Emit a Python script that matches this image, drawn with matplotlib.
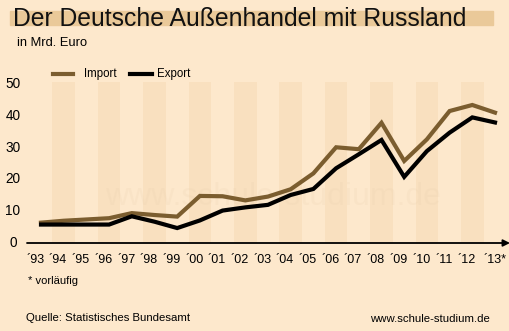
import matplotlib
matplotlib.use("Agg")
import matplotlib.pyplot as plt
from matplotlib.patches import Rectangle

plt.rcParams['font.family'] = ['Liberation Sans', 'DejaVu Sans']

years = list(range(1993, 2014))
tick_labels = ["´93", "´94", "´95", "´96", "´97", "´98", "´99", "´00", "´01", "´02",
               "´03", "´04", "´05", "´06", "´07", "´08", "´09", "´10", "´11", "´12", "´13*"]
imports = [6.4, 7.0, 7.4, 7.8, 9.4, 8.8, 8.3, 14.8, 14.7, 13.4,
           14.6, 16.9, 21.9, 30.1, 29.5, 37.8, 25.8, 32.6, 41.5, 43.4, 41.0]
exports = [5.8, 5.8, 5.8, 5.8, 8.4, 6.7, 4.7, 7.1, 10.2, 11.2,
           12.0, 15.1, 17.0, 23.5, 27.9, 32.4, 20.8, 28.9, 34.7, 39.5, 37.9]
y_ticks = [0, 10, 20, 30, 40, 50]

BG = '#fde8cc'
BAND = '#f9e0bf'
IMP = '#7b5d2f'
W, H = 510, 331

fig = plt.figure(figsize=(W / 100, H / 100), dpi=100, facecolor=BG)

# title highlight
fig.patches.append(Rectangle((10 / W, 1 - 25 / H), 483 / W, 14 / H,
                             transform=fig.transFigure, color='#eac999', zorder=0))
fig.text(13 / W, 1 - 18.5 / H, "Der Deutsche Außenhandel mit Russland",
         fontsize=17.8, va='center', ha='left', color='#111111')
fig.text(17 / W, 1 - 43 / H, "in Mrd. Euro", fontsize=9.3, va='center', ha='left')

ax = fig.add_axes([27 / W, (H - 243) / H, 483 / W, 163 / H])
ax.set_facecolor(BG)
ax.patch.set_alpha(0)
x0 = 1993 - 14 / 22.7
x1 = 2013 + 15 / 22.7
ax.set_xlim(x0, x1)
ax.set_ylim(0, 163 / 3.18)
for s in ax.spines.values():
    s.set_visible(False)
ax.set_xticks([])
ax.set_yticks([])

# background bands on even years
for yr in years:
    if yr % 2 == 0:
        ax.add_patch(Rectangle((yr - 0.5, 0), 1.0, 50.6, color=BAND, zorder=0, lw=0))

# watermark
ax.text(2003.2, 14.5, "www.schule-studium.de", fontsize=23, color='#e8cfae',
        alpha=0.18, ha='center', va='center', zorder=1)

ax.plot(years, imports, color=IMP, lw=3, zorder=3, solid_joinstyle='miter')
ax.plot(years, exports, color='#000000', lw=3, zorder=4, solid_joinstyle='miter')

# x axis arrow
ax.annotate('', xy=(1.0, 0), xytext=(0.0, 0), xycoords='axes fraction',
            arrowprops=dict(arrowstyle='-|>', color='black', lw=1.3,
                            mutation_scale=10, shrinkA=0, shrinkB=0),
            annotation_clip=False, zorder=5)

# x tick labels
for yr, lab in zip(years, tick_labels):
    off = -0.25 if not lab.endswith('*') else 0.0
    ax.text(yr + off, -5.5, lab, fontsize=9, ha='center', va='center', clip_on=False)

# y tick labels
for v in y_ticks:
    ax.text(x0 - 14 / 22.7, v, str(v), fontsize=9.8, ha='center', va='center', clip_on=False)

# legend
ax.plot([1993.55, 1994.4], [53.0, 53.0], color=IMP, lw=3, clip_on=False)
ax.text(1994.9, 53.0, "Import", fontsize=8.3, va='center', ha='left', clip_on=False)
ax.plot([1996.9, 1997.9], [53.0, 53.0], color='black', lw=3, clip_on=False)
ax.text(1998.1, 53.3, "Export", fontsize=8.3, va='center', ha='left', clip_on=False)

fig.text(28 / W, 1 - 281 / H, "* vorläufig", fontsize=8, va='center', ha='left')
fig.text(26 / W, 1 - 318 / H, "Quelle: Statistisches Bundesamt", fontsize=8.2, va='center', ha='left')
fig.text(490 / W, 1 - 319 / H, "www.schule-studium.de", fontsize=8.2, va='center', ha='right')

fig.savefig("out.png", dpi=100, facecolor=BG)
